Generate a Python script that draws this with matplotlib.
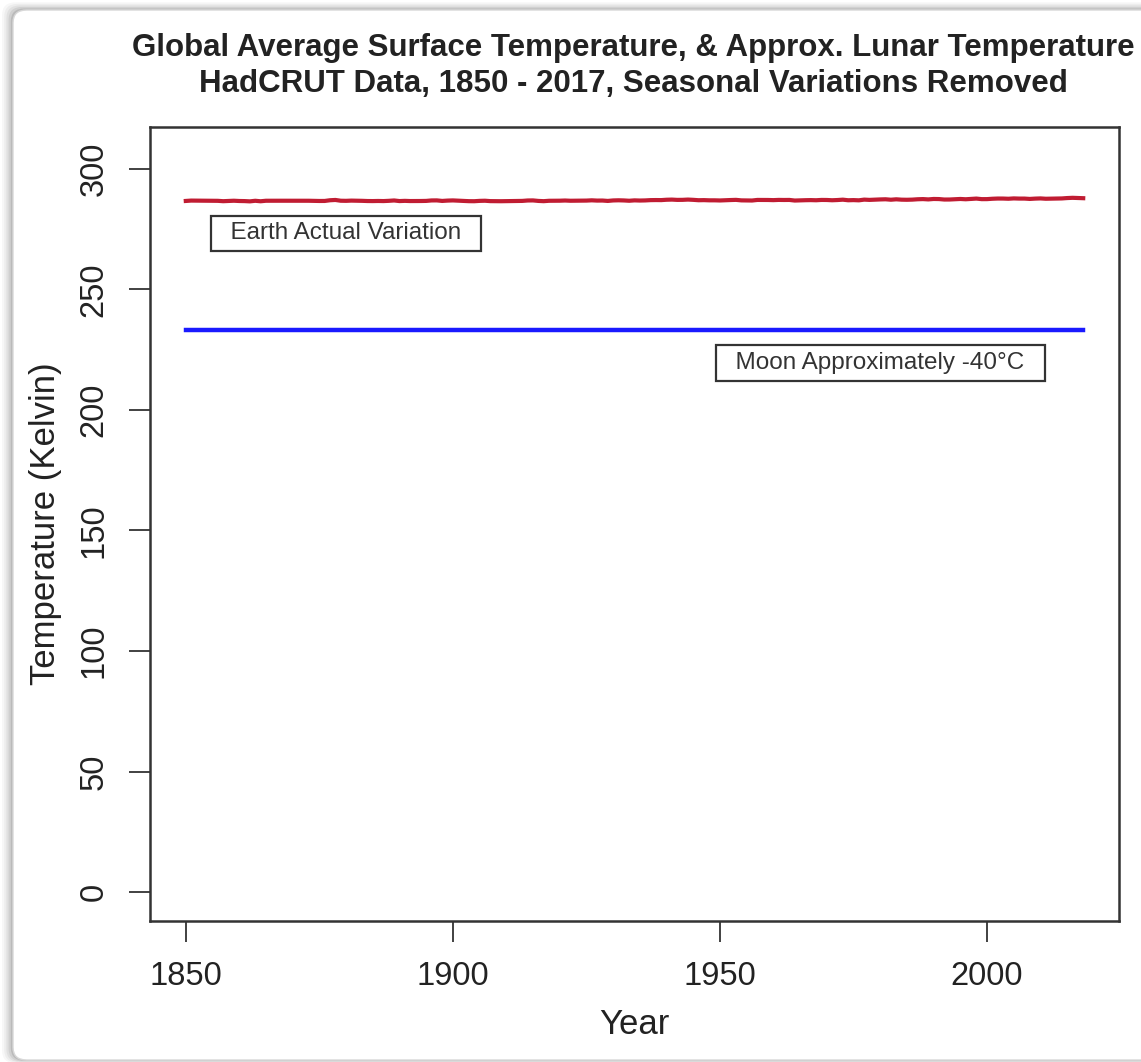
import numpy as np
import matplotlib.pyplot as plt
from matplotlib.patches import FancyBboxPatch

plt.rcParams['font.family'] = ['Liberation Sans', 'DejaVu Sans']

# HadCRUT annual global anomalies (deg C, vs 1961-1990), read roughly
years = np.arange(1850, 2019)
anomaly = [
    -0.37, -0.22, -0.23, -0.27, -0.29, -0.30, -0.32, -0.47, -0.39, -0.28,
    -0.39, -0.43, -0.54, -0.30, -0.50, -0.29, -0.30, -0.32, -0.28, -0.28,
    -0.31, -0.32, -0.27, -0.29, -0.35, -0.38, -0.37, -0.08, 0.04, -0.28,
    -0.32, -0.23, -0.26, -0.32, -0.40, -0.42, -0.38, -0.42, -0.32, -0.17,
    -0.42, -0.33, -0.41, -0.41, -0.39, -0.35, -0.16, -0.14, -0.36, -0.22,
    -0.15, -0.27, -0.36, -0.46, -0.48, -0.34, -0.28, -0.44, -0.47, -0.48,
    -0.44, -0.44, -0.37, -0.35, -0.18, -0.15, -0.36, -0.46, -0.30, -0.28,
    -0.27, -0.19, -0.29, -0.27, -0.27, -0.22, -0.11, -0.22, -0.20, -0.36,
    -0.16, -0.10, -0.16, -0.29, -0.13, -0.20, -0.15, -0.03, 0.00, -0.02,
    0.13, 0.19, 0.07, 0.09, 0.20, 0.09, -0.07, -0.03, -0.11, -0.11,
    -0.17, -0.07, 0.01, 0.08, -0.13, -0.14, -0.19, 0.05, 0.06, 0.03,
    -0.03, 0.06, 0.03, 0.05, -0.20, -0.11, -0.06, -0.02, -0.08, 0.05,
    0.03, -0.08, 0.01, 0.16, -0.08, -0.02, -0.11, 0.18, 0.07, 0.17,
    0.26, 0.32, 0.14, 0.31, 0.16, 0.12, 0.18, 0.33, 0.40, 0.27,
    0.45, 0.41, 0.22, 0.23, 0.32, 0.45, 0.33, 0.47, 0.61, 0.38,
    0.39, 0.54, 0.63, 0.62, 0.54, 0.68, 0.61, 0.61, 0.47, 0.60,
    0.68, 0.54, 0.58, 0.62, 0.67, 0.83, 0.93, 0.85, 0.77,
]
baseline_k = 287.0
earth_k = baseline_k + np.array(anomaly)
moon_k = np.full(len(years), 233.15)  # -40 C

fig = plt.figure(figsize=(11.41, 10.62), dpi=100)
W, H = 1141, 1062

# screenshot frame with soft shadow
for i, a in enumerate([0.03, 0.04, 0.05, 0.07, 0.1]):
    off = (5 - i) * 2.2
    fig.patches.append(FancyBboxPatch(
        ((13 - off) / W, (H - 1060 - off * 0.3) / H), (1200 - 13) / W, (1060 - 10 + off) / H,
        boxstyle="round,pad=0,rounding_size=0.012", transform=fig.transFigure,
        facecolor='black', edgecolor='none', alpha=a, zorder=-2))
fig.patches.append(FancyBboxPatch(
    (13 / W, (H - 1060) / H), (1200 - 13) / W, (1060 - 10) / H,
    boxstyle="round,pad=0,rounding_size=0.012", transform=fig.transFigure,
    facecolor='white', edgecolor='#d8d8d8', linewidth=1, zorder=-1))

ax = fig.add_axes([150 / W, (H - 921) / H, (1119 - 150) / W, (921 - 127) / H])
ax.set_zorder(5)
ax.plot(years, earth_k, color='#c01c32', linewidth=3)
ax.plot(years, moon_k, color='#1a1aff', linewidth=3.2)

ax.set_xlim(1843.3, 2024.7)
ax.set_ylim(-12, 317.3)
ax.set_xticks([1850, 1900, 1950, 2000])
ax.set_yticks([0, 50, 100, 150, 200, 250, 300])
ax.tick_params(axis='both', length=15, width=1.3, color='#333333',
               labelsize=23.5, labelcolor='#222222', pad=14)
for lab in ax.get_yticklabels():
    lab.set_rotation(90)
    lab.set_va('center')
for s in ax.spines.values():
    s.set_linewidth(1.8)
    s.set_color('#333333')

ax.set_xlabel('Year', fontsize=25, color='#222222')
ax.xaxis.label.set_va('center')
ax.xaxis.set_label_coords(0.5, (921 - 1024) / 794)
ax.set_ylabel('Temperature (Kelvin)', fontsize=25, color='#222222')
ax.yaxis.label.set_va('center')
ax.yaxis.set_label_coords((46 - 150) / 969, 0.5)

box = dict(boxstyle='square,pad=0.27', facecolor='white', edgecolor='#333333', linewidth=1.6)
ax.text(1880, 273.3, '  Earth Actual Variation  ', fontsize=17.5, color='#333333',
        ha='center', va='center', bbox=box)
ax.text(1980, 219.4, '  Moon Approximately -40°C  ', fontsize=17.5, color='#333333',
        ha='center', va='center', bbox=box)

fig.text(633 / W, 1 - 66 / H,
         'Global Average Surface Temperature, & Approx. Lunar Temperature\n'
         'HadCRUT Data, 1850 - 2017, Seasonal Variations Removed',
         ha='center', va='center', fontsize=22.5, fontweight='bold',
         color='#222222', linespacing=1.25, zorder=6)

fig.savefig('out.png', dpi=100, facecolor='white')
